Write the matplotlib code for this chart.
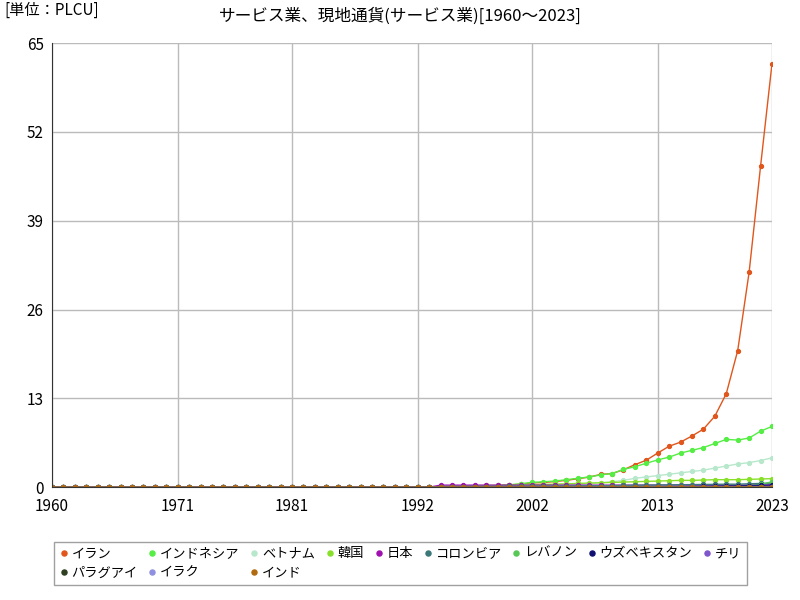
import matplotlib
matplotlib.use("Agg")
import matplotlib.pyplot as plt

plt.rcParams["font.family"] = ["Noto Sans CJK JP"]

years = list(range(1960, 2024))
Z34 = [0.0, 0.0, 0.0, 0.0, 0.0, 0.0, 0.0, 0.0, 0.0, 0.0, 0.0, 0.0, 0.0, 0.0, 0.0, 0.0, 0.0,
       0.0, 0.0, 0.0, 0.0, 0.0, 0.0, 0.0, 0.0, 0.0, 0.0, 0.0, 0.0, 0.0, 0.0, 0.0, 0.0, 0.0]
iran = Z34 + [0.02, 0.03, 0.05, 0.08, 0.12, 0.2, 0.3, 0.45,
              0.63, 0.68, 0.83, 1.0, 1.24, 1.48, 1.87, 2.0, 2.55, 3.3, 3.95, 5.0, 6.0, 6.6,
              7.5, 8.5, 10.4, 13.7, 20.0, 31.5, 47.0, 62.0]
indonesia = Z34 + [0.05, 0.07, 0.1, 0.13, 0.17, 0.25, 0.35, 0.5,
                   0.7, 0.8, 0.9, 1.1, 1.3, 1.5, 1.8, 2.0, 2.6, 3.0, 3.5, 4.0, 4.4, 5.0, 5.4,
                   5.8, 6.4, 7.0, 6.9, 7.2, 8.2, 8.9]
vietnam = Z34 + [0.02, 0.03, 0.04, 0.05, 0.06, 0.07, 0.08, 0.1,
                 0.12, 0.15, 0.2, 0.3, 0.4, 0.5, 0.65, 0.8, 1.0, 1.3, 1.5, 1.7, 1.9, 2.1, 2.3,
                 2.5, 2.8, 3.1, 3.4, 3.6, 3.9, 4.3]
korea = Z34 + [0.15, 0.18, 0.2, 0.23, 0.25, 0.28, 0.3, 0.33,
               0.36, 0.4, 0.45, 0.5, 0.55, 0.6, 0.65, 0.7, 0.75, 0.8, 0.85, 0.9, 0.95, 1.0,
               1.0, 1.05, 1.1, 1.1, 1.1, 1.15, 1.2, 1.25]
japan = Z34 + [0.3, 0.3, 0.3, 0.3, 0.3, 0.3, 0.3, 0.3, 0.3, 0.3, 0.3, 0.3, 0.3, 0.3, 0.3,
               0.3, 0.3, 0.3, 0.3, 0.3, 0.3, 0.3, 0.3, 0.3, 0.3, 0.3, 0.3, 0.3, 0.3, 0.3]
colombia = Z34 + [0.05, 0.06, 0.07, 0.08, 0.09, 0.1, 0.11, 0.12, 0.13, 0.14, 0.15, 0.16,
                  0.18, 0.2, 0.22, 0.24, 0.26, 0.28, 0.3, 0.32, 0.34, 0.36, 0.38, 0.4, 0.42,
                  0.44, 0.44, 0.5, 0.55, 0.6]
lebanon = Z34 + [0.1, 0.1, 0.1, 0.1, 0.1, 0.1, 0.1, 0.1, 0.1, 0.1, 0.1, 0.1, 0.1, 0.1, 0.1,
                 0.1, 0.1, 0.1, 0.1, 0.1, 0.1, 0.1, 0.1, 0.1, 0.1, 0.1, 0.1, 0.2, 0.4, 0.8]
uzbek = Z34 + [0.0, 0.0, 0.0, 0.0, 0.0, 0.0, 0.0, 0.0, 0.0, 0.0, 0.01, 0.01, 0.01, 0.02, 0.02,
               0.03, 0.03, 0.04, 0.05, 0.06, 0.07, 0.08, 0.1, 0.12, 0.15, 0.18, 0.2, 0.24, 0.28, 0.32]
chile = Z34 + [0.1, 0.1, 0.1, 0.1, 0.1, 0.1, 0.1, 0.1, 0.1, 0.1, 0.1, 0.1, 0.1, 0.1, 0.1,
               0.1, 0.1, 0.1, 0.1, 0.1, 0.1, 0.1, 0.1, 0.1, 0.1, 0.1, 0.1, 0.1, 0.1, 0.1]
paraguay = Z34 + [0.05, 0.05, 0.05, 0.05, 0.05, 0.05, 0.05, 0.05, 0.05, 0.05, 0.05, 0.05,
                  0.05, 0.05, 0.05, 0.05, 0.05, 0.05, 0.05, 0.05, 0.05, 0.05, 0.05, 0.05,
                  0.05, 0.05, 0.05, 0.05, 0.05, 0.05]
iraq = Z34 + [0.0, 0.0, 0.0, 0.0, 0.0, 0.0, 0.0, 0.0, 0.0, 0.0, 0.0, 0.01, 0.01, 0.01, 0.01,
              0.01, 0.01, 0.01, 0.01, 0.01, 0.01, 0.01, 0.01, 0.01, 0.01, 0.01, 0.01, 0.01, 0.01, 0.01]
india = Z34 + [0.01, 0.01, 0.01, 0.01, 0.01, 0.01, 0.01, 0.01, 0.01, 0.01, 0.01, 0.01, 0.01,
               0.01, 0.01, 0.01, 0.01, 0.01, 0.01, 0.01, 0.01, 0.01, 0.01, 0.01, 0.01, 0.01,
               0.01, 0.01, 0.01, 0.01]

names = ["イラン", "インドネシア", "ベトナム", "韓国", "日本", "コロンビア", "レバノン",
         "ウズベキスタン", "チリ", "パラグアイ", "イラク", "インド"]
series = [iran, indonesia, vietnam, korea, japan, colombia, lebanon, uzbek, chile,
          paraguay, iraq, india]
colors = ["#e0561c", "#55ee44", "#b8e8cc", "#88e02a", "#a010b0", "#3c7878", "#55c855",
          "#101070", "#7f55cc", "#2e4020", "#9090e0", "#b06a10"]

fig = plt.figure(figsize=(8, 6), dpi=100)
ax = fig.add_axes([0.065, 0.188, 0.9, 0.74])
for name, vals, c in zip(names, series, colors):
    ax.plot(years, vals, color=c, lw=1, marker="o", ms=2.8, label=name)

ax.set_xlim(1960, 2023)
ax.set_ylim(0, 65)
ax.set_xticks([1960, 1971, 1981, 1992, 2002, 2013, 2023])
ax.set_yticks([0, 13, 26, 39, 52, 65])
ax.grid(True, color="#bbbbbb", lw=1)
ax.tick_params(length=0, labelsize=11)
ax.tick_params(axis="x", pad=8)
ax.tick_params(axis="y", pad=6)
ax.spines["top"].set_visible(False)
ax.spines["right"].set_visible(False)
ax.spines["left"].set_color("#333333")
ax.spines["bottom"].set_color("#333333")

fig.text(0.5, 0.965, "サービス業、現地通貨(サービス業)[1960～2023]", ha="center", fontsize=12)
fig.text(0.005, 0.975, "[単位：PLCU]", fontsize=11)

handles, labels = ax.get_legend_handles_labels()
order = [0, 9, 1, 10, 2, 11, 3, 4, 5, 6, 7, 8]
leg = fig.legend([handles[i] for i in order], [labels[i] for i in order],
                 loc="lower left", bbox_to_anchor=(0.068, 0.025), ncol=9, frameon=True,
                 fontsize=9.5, handlelength=0.6, handletextpad=0.3, columnspacing=0.8,
                 markerscale=1.3, fancybox=False, edgecolor="#888888", borderaxespad=0)
for h in leg.legend_handles:
    h.set_linestyle("")

fig.savefig("out.png")
